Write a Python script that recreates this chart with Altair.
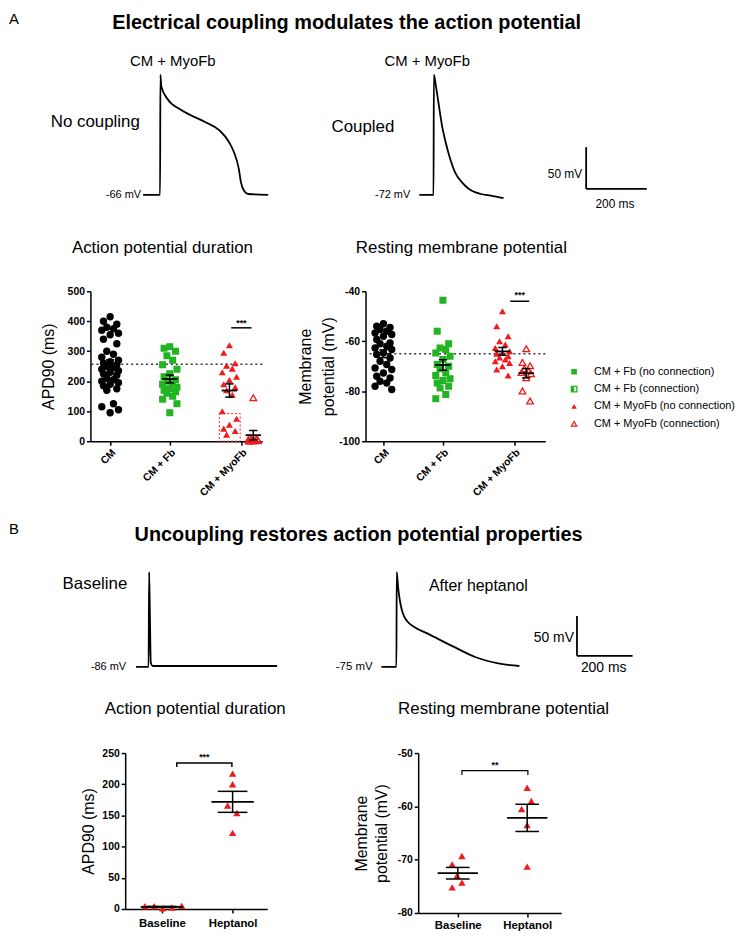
import altair as alt
import numpy as np
import pandas as pd

FONT = "Liberation Sans"
GREEN = "#22b422"
RED = "#f01a1a"

# ---------------- data ----------------
# Section A traces: time since trace start (ms), voltage above resting level (mV)
nocoup_t = [0, 56, 57, 60, 80, 119, 159, 206, 253, 284, 300, 316, 323, 335, 347, 413]
nocoup_v = [0, 0, 144, 130, 115, 103, 95, 87, 77, 63, 51, 31, 15, 4, 1, 0]
coup_t = [0, 47, 48, 55, 63, 75, 87, 102, 118, 141, 164, 203, 236, 278]
coup_v = [0, 0, 144, 130, 111, 83, 63, 43, 27, 15, 7, 1, -1, -4]
# Section B traces
base_t = [0, 45, 47, 50, 53, 60, 507]
base_v = [0, 0, 119, 60, 5, 1, 1]
hept_t = [0, 54, 55, 60, 66, 73, 82, 96, 118, 170, 255, 339, 425, 496]
hept_v = [0, 0, 119, 100, 84, 72, 63, 56, 50, 41, 26, 12, 4, 1]
scale_ms = 200
scale_mv = 50

# Section A scatter: APD90 (ms)
apd_cm = [415, 400, 390, 380, 375, 370, 360, 355, 340, 325, 300, 290, 280, 270, 265, 260, 255, 250,
          245, 240, 235, 230, 225, 220, 210, 205, 200, 195, 190, 185, 175, 170, 125, 115, 105, 95]
apd_fb = [315, 310, 300, 285, 270, 255, 240, 225, 215, 205, 200, 195, 190, 180, 175, 170, 165, 160,
          150, 140, 125, 95]
apd_myo_nc = [320, 295, 260, 252, 242, 230, 215, 204, 190, 180, 170, 155, 100, 75, 55, 42, 34, 22]
apd_myo_c = [145, 12, 8, 6, 4, 3, 2, 1, 0]
apd_box = [0, 92]
# Section A scatter: resting membrane potential (mV)
rmp_cm = [-53, -54, -54.5, -55.3, -56, -56.7, -57.3, -58, -59.3, -60.7, -61, -62, -62.7, -63.3, -64.7,
          -65.3, -66.7, -68, -69.3, -70.7, -71.3, -72.7, -74, -74.7, -76, -76.7, -78, -79.3]
rmp_fb = [-43.6, -56, -61, -62.7, -63.3, -64.7, -66, -67.3, -69.3, -70, -71, -72.7, -73.7, -75, -75.7,
          -76.7, -78, -78.7, -81.3, -83]
rmp_myo_nc = [-48, -54, -58, -60, -61.3, -62.7, -64, -64.7, -65, -66, -66.5, -67.3, -68, -68.7, -70,
              -71.3, -73.7]
rmp_myo_c = [-63, -68.5, -69.8, -71, -71.8, -72.5, -73, -74.6, -79.9, -83.9]

# Section B scatter
apd_base = [4.5, 4.5, 1.0, 2.5, 5.0]
apd_hept = [217, 200, 166, 154, 122]
rmp_base = [-70.9, -69.3, -73.0, -74.3, -75.2]
rmp_hept = [-56.5, -59.0, -60.5, -63.5, -71.3]

groups_a = ["CM", "CM + Fb", "CM + MyoFb"]
groups_b = ["Baseline", "Heptanol"]
legend_labels = ["CM + Fb (no connection)", "CM + Fb (connection)",
                 "CM + MyoFb (no connection)", "CM + MyoFb (connection)"]

# ---------------- layout constants ----------------
XA = [1.0, 2.0, 3.0, 3.4]          # group centres (CM, Fb, MyoFb no conn., MyoFb conn.)
XA_TICKS = [1.0, 2.0, 3.2]
PATTERN = [0.0, -0.8, 0.8, -0.4, 0.4, -1.0, 1.0]
OFF_APD_BASE = [-0.24, -0.11, 0.01, 0.14, 0.28]
OFF_APD_HEPT = [0.0, 0.0, -0.07, 0.06, 0.0]
OFF_RMP_BASE = [-0.08, 0.06, -0.01, 0.06, -0.08]
OFF_RMP_HEPT = [0.0, 0.06, -0.08, 0.0, 0.0]


def spread(vals, center, half):
    vals = np.asarray(vals, float)
    order = np.argsort(-vals, kind="stable")
    x = np.empty(len(vals))
    for r, i in enumerate(order):
        x[i] = center + PATTERN[r % len(PATTERN)] * half
    return x


def pts(vals, xs):
    return pd.DataFrame({"x": xs, "v": np.asarray(vals, float)})


def stat_df(groups, half_mean, half_cap):
    rows = []
    for vals, xc in groups:
        a = np.asarray(vals, float)
        m = a.mean()
        s = a.std(ddof=1) / np.sqrt(len(a))
        rows.append(dict(xc=xc, m=m, lo=m - s, hi=m + s, xm1=xc - half_mean, xm2=xc + half_mean,
                         xc1=xc - half_cap, xc2=xc + half_cap))
    return pd.DataFrame(rows)


def minus_expr():
    return "datum.value < 0 ? '-' + abs(datum.value) : '' + datum.value"


def scatter_panel(X, Y, point_layers, stats, extra, title, width, height):
    layers = list(extra.get("under", []))
    layers += point_layers
    st = alt.Chart(stats)
    layers += [
        st.mark_rule(color="black", strokeWidth=1.8).encode(x=X("xm1"), x2="xm2:Q", y=Y("m")),
        st.mark_rule(color="black", strokeWidth=1.5).encode(x=X("xc"), y=Y("lo"), y2="hi:Q"),
        st.mark_rule(color="black", strokeWidth=1.5).encode(x=X("xc1"), x2="xc2:Q", y=Y("lo")),
        st.mark_rule(color="black", strokeWidth=1.5).encode(x=X("xc1"), x2="xc2:Q", y=Y("hi")),
    ]
    layers += extra.get("over", [])
    return alt.layer(*layers).properties(width=width, height=height, title=title)


def title_params(text, dx, offset):
    return alt.TitleParams(text=text, font=FONT, fontSize=17, fontWeight="normal", color="black",
                           anchor="middle", dx=dx, offset=offset)


# ---------------- Section A scatter: APD ----------------
xa_label = ("datum.value < 1.5 ? '%s' : datum.value < 2.5 ? '%s' : '%s'" % tuple(groups_a))


def make_xa(domain):
    sc = alt.Scale(domain=domain, nice=False, zero=False)
    ax = alt.Axis(values=XA_TICKS, labelExpr=xa_label, labelAngle=-45, title=None,
                  labelOverlap=False, labelFlush=False, labelFontSize=10.5, labelPadding=2)
    return lambda f: alt.X(f + ":Q", scale=sc, axis=ax)


X_apdA = make_xa([0.67, 3.55])
sc_apdA = alt.Scale(domain=[0, 500], nice=False, zero=False)
ax_apdA = alt.Axis(values=[0, 100, 200, 300, 400, 500], title="APD90 (ms)", titlePadding=11,
                   labelFlush=False, labelOverlap=False)
Y_apdA = lambda f: alt.Y(f + ":Q", scale=sc_apdA, axis=ax_apdA)


def point_layers(X, Y, cm, fb, nc, c, xs):
    return [
        alt.Chart(pts(cm, spread(cm, xs[0], 0.14))).mark_point(shape="circle", filled=True, color="black",
                                                                size=55, opacity=1).encode(x=X("x"), y=Y("v")),
        alt.Chart(pts(fb, spread(fb, xs[1], 0.12))).mark_point(shape="square", filled=True, color=GREEN,
                                                                size=50, opacity=1).encode(x=X("x"), y=Y("v")),
        alt.Chart(pts(nc, spread(nc, xs[2], 0.12))).mark_point(shape="triangle-up", filled=True, color=RED,
                                                                size=50, opacity=1).encode(x=X("x"), y=Y("v")),
        alt.Chart(pts(c, spread(c, xs[3], 0.08))).mark_point(shape="triangle-up", filled=False, color=RED,
                                                              size=45, opacity=1, strokeWidth=1.3).encode(x=X("x"), y=Y("v")),
    ]


ref_apd = pd.DataFrame({"v": [np.mean(apd_cm)]})
box_df = pd.DataFrame({"x": [2.83], "x2": [3.18], "v": [apd_box[0]], "v2": [apd_box[1]]})
sigA1 = pd.DataFrame({"x": [3.03], "x2": [3.37], "v": [378], "tx": [3.2], "tv": [394], "s": ["***"]})

apdA = scatter_panel(
    X_apdA, Y_apdA,
    point_layers(X_apdA, Y_apdA, apd_cm, apd_fb, apd_myo_nc, apd_myo_c, XA),
    stat_df([(apd_cm, XA[0]), (apd_fb, XA[1]), (apd_myo_nc, XA[2]), (apd_myo_c, XA[3])], 0.13, 0.07),
    {"under": [
        alt.Chart(ref_apd).mark_rule(color="#333333", strokeDash=[2, 3], strokeWidth=1.5).encode(y=Y_apdA("v")),
        alt.Chart(box_df).mark_rect(fillOpacity=0, stroke=RED, strokeDash=[2, 2], strokeWidth=1).encode(
            x=X_apdA("x"), x2="x2:Q", y=Y_apdA("v"), y2="v2:Q"),
    ], "over": [
        alt.Chart(sigA1).mark_rule(color="black", strokeWidth=1.5).encode(x=X_apdA("x"), x2="x2:Q", y=Y_apdA("v")),
        alt.Chart(sigA1).mark_text(font=FONT, fontSize=9, fontWeight="bold", color="black").encode(
            x=X_apdA("tx"), y=Y_apdA("tv"), text="s:N"),
    ]},
    title_params("Action potential duration", -14, 29), 173, 151)

# ---------------- Section A scatter: RMP ----------------
X_rmpA = make_xa([0.7, 3.72])
sc_rmpA = alt.Scale(domain=[-100, -40], nice=False, zero=False)
ax_rmpA = alt.Axis(values=[-100, -80, -60, -40], title=["Membrane", "potential (mV)"], titlePadding=2,
                   titleLineHeight=23, labelFlush=False, labelOverlap=False, labelExpr=minus_expr())
Y_rmpA = lambda f: alt.Y(f + ":Q", scale=sc_rmpA, axis=ax_rmpA)
ref_rmp = pd.DataFrame({"v": [np.mean(rmp_cm)]})
sigA2 = pd.DataFrame({"x": [3.13], "x2": [3.45], "v": [-44], "tx": [3.29], "tv": [-41.5], "s": ["***"]})

rmpA = scatter_panel(
    X_rmpA, Y_rmpA,
    point_layers(X_rmpA, Y_rmpA, rmp_cm, rmp_fb, rmp_myo_nc, rmp_myo_c, XA),
    stat_df([(rmp_cm, XA[0]), (rmp_fb, XA[1]), (rmp_myo_nc, XA[2]), (rmp_myo_c, XA[3])], 0.13, 0.07),
    {"under": [
        alt.Chart(ref_rmp).mark_rule(color="#333333", strokeDash=[2, 3], strokeWidth=1.5).encode(y=Y_rmpA("v")),
    ], "over": [
        alt.Chart(sigA2).mark_rule(color="black", strokeWidth=1.5).encode(x=X_rmpA("x"), x2="x2:Q", y=Y_rmpA("v")),
        alt.Chart(sigA2).mark_text(font=FONT, fontSize=9, fontWeight="bold", color="black").encode(
            x=X_rmpA("tx"), y=Y_rmpA("tv"), text="s:N"),
    ]},
    title_params("Resting membrane potential", 6, 29), 181, 151)

# ---------------- legend ----------------
leg = pd.DataFrame({"row": list(range(len(legend_labels))), "label": legend_labels})
YL = alt.Y("row:Q", scale=alt.Scale(domain=[-4.63, 4.0], reverse=True, nice=False, zero=False), axis=None)
lb = alt.Chart(leg)
legend = alt.layer(
    lb.transform_filter("datum.row == 0").mark_point(shape="square", filled=True, color=GREEN, size=32, opacity=1)
    .encode(x=alt.value(5), y=YL),
    lb.transform_filter("datum.row == 1").mark_point(shape="square", filled=False, color=GREEN, size=30,
                                                     opacity=1, strokeWidth=1.3).encode(x=alt.value(5), y=YL),
    lb.transform_filter("datum.row == 1").mark_point(shape="M -1 -1 L 0 -1 L 0 1 L -1 1 Z", filled=True,
                                                     color=GREEN, size=30, opacity=1).encode(x=alt.value(5), y=YL),
    lb.transform_filter("datum.row == 2").mark_point(shape="triangle-up", filled=True, color=RED, size=30, opacity=1)
    .encode(x=alt.value(5), y=YL),
    lb.transform_filter("datum.row == 3").mark_point(shape="triangle-up", filled=False, color=RED, size=30,
                                                     opacity=1, strokeWidth=1.2).encode(x=alt.value(5), y=YL),
    lb.mark_text(align="left", baseline="middle", font=FONT, fontSize=11, color="black")
    .encode(x=alt.value(25), y=YL, text="label:N"),
).properties(width=150, height=151)

# ---------------- Section B scatter ----------------
xb_label = "datum.value < 1.5 ? '%s' : '%s'" % tuple(groups_b)


def make_xb(domain, pad):
    sc = alt.Scale(domain=domain, nice=False, zero=False)
    ax = alt.Axis(values=[1, 2], labelExpr=xb_label, title=None, labelOverlap=False, labelFlush=False,
                  labelFontSize=11.5, labelPadding=pad)
    return lambda f: alt.X(f + ":Q", scale=sc, axis=ax)


def simple_pts(X, Y, vals, center, offs):
    xs = center + np.asarray(offs, float)
    return alt.Chart(pts(vals, xs)).mark_point(shape="triangle-up", filled=True, color=RED, size=55,
                                               opacity=1).encode(x=X("x"), y=Y("v"))


X_apdB = make_xb([0.48, 2.49], 5)
sc_apdB = alt.Scale(domain=[0, 250], nice=False, zero=False)
ax_apdB = alt.Axis(values=[0, 50, 100, 150, 200, 250], title="APD90 (ms)", titlePadding=5,
                   labelFlush=False, labelOverlap=False)
Y_apdB = lambda f: alt.Y(f + ":Q", scale=sc_apdB, axis=ax_apdB)
brB1 = pd.DataFrame({"x": [1.21, 1.21, 1.99, 1.99], "v": [227.5, 234, 234, 227.5], "i": [0, 1, 2, 3]})
sgB1 = pd.DataFrame({"x": [1.6], "v": [244], "s": ["***"]})
apdB = scatter_panel(
    X_apdB, Y_apdB,
    [simple_pts(X_apdB, Y_apdB, apd_base, 1.0, OFF_APD_BASE), simple_pts(X_apdB, Y_apdB, apd_hept, 2.0, OFF_APD_HEPT)],
    stat_df([(apd_base, 1.0), (apd_hept, 2.0)], 0.30, 0.21),
    {"over": [
        alt.Chart(brB1).mark_line(color="black", strokeWidth=1.5).encode(x=X_apdB("x"), y=Y_apdB("v"), order="i:Q"),
        alt.Chart(sgB1).mark_text(font=FONT, fontSize=9, fontWeight="bold", color="black").encode(
            x=X_apdB("x"), y=Y_apdB("v"), text="s:N"),
    ]},
    title_params("Action potential duration", -1, 30), 143, 157)

X_rmpB = make_xb([0.43, 2.49], 3)
sc_rmpB = alt.Scale(domain=[-80, -50], nice=False, zero=False)
ax_rmpB = alt.Axis(values=[-80, -70, -60, -50], title=["Membrane", "potential (mV)"], titlePadding=8,
                   titleLineHeight=20, labelFlush=False, labelOverlap=False, labelExpr=minus_expr())
Y_rmpB = lambda f: alt.Y(f + ":Q", scale=sc_rmpB, axis=ax_rmpB)
brB2 = pd.DataFrame({"x": [1.06, 1.06, 2.01, 2.01], "v": [-54.1, -53.3, -53.3, -54.1], "i": [0, 1, 2, 3]})
sgB2 = pd.DataFrame({"x": [1.535], "v": [-52.3], "s": ["**"]})
rmpB = scatter_panel(
    X_rmpB, Y_rmpB,
    [simple_pts(X_rmpB, Y_rmpB, rmp_base, 1.0, OFF_RMP_BASE), simple_pts(X_rmpB, Y_rmpB, rmp_hept, 2.0, OFF_RMP_HEPT)],
    stat_df([(rmp_base, 1.0), (rmp_hept, 2.0)], 0.29, 0.17),
    {"over": [
        alt.Chart(brB2).mark_line(color="black", strokeWidth=1.2).encode(x=X_rmpB("x"), y=Y_rmpB("v"), order="i:Q"),
        alt.Chart(sgB2).mark_text(font=FONT, fontSize=9, fontWeight="bold", color="black").encode(
            x=X_rmpB("x"), y=Y_rmpB("v"), text="s:N"),
    ]},
    title_params("Resting membrane potential", 14, 30), 144, 161)


# ---------------- trace rows ----------------
def trace_row(traces, bar_at, texts, xdom, ydom, width, height):
    X = alt.X("t:Q", scale=alt.Scale(domain=xdom, nice=False, zero=False), axis=None)
    Y = alt.Y("v:Q", scale=alt.Scale(domain=ydom, nice=False, zero=False), axis=None)
    frames = []
    for name, t, v, off in traces:
        frames.append(pd.DataFrame({"trace": name, "t": np.asarray(t, float) + off,
                                    "v": np.asarray(v, float), "i": range(len(t))}))
    df = pd.concat(frames, ignore_index=True)
    sb = pd.DataFrame({"t": [bar_at[0]], "t2": [bar_at[0] + scale_ms], "v": [bar_at[1]], "v2": [bar_at[1] + scale_mv]})
    tdf = pd.DataFrame(texts, columns=["t", "v", "label", "size", "kind"])
    layers = [
        alt.Chart(df).mark_line(color="black", strokeWidth=1.8, interpolate="monotone").encode(
            x=X, y=Y, detail="trace:N", order="i:Q"),
        alt.Chart(sb).mark_rule(color="black", strokeWidth=1.8).encode(x=X, y=Y, y2="v2:Q"),
        alt.Chart(sb).mark_rule(color="black", strokeWidth=1.8).encode(x=X, x2="t2:Q", y=Y),
    ]
    for kind, align, weight in [("left", "left", "normal"), ("right", "right", "normal"),
                                ("center", "center", "normal"), ("title", "center", "bold")]:
        sub = tdf[tdf.kind == kind]
        if len(sub):
            layers.append(alt.Chart(sub).mark_text(align=align, baseline="middle", font=FONT, fontWeight=weight,
                                                   color="black").encode(
                x=X, y=Y, text="label:N", size=alt.Size("size:Q", scale=None)))
    return alt.layer(*layers).properties(width=width, height=height)


rowA = trace_row(
    [("nocoup", nocoup_t, nocoup_v, 0), ("coup", coup_t, coup_v, 912)],
    (1463, 7.1),
    [(-443, 211, "A", 15, "left"),
     (672, 206, "Electrical coupling modulates the action potential", 20, "title"),
     (98, 160.6, "CM + MyoFb", 15, "center"),
     (938, 160.6, "CM + MyoFb", 15, "center"),
     (-305, 87, "No coupling", 17, "left"),
     (622, 81, "Coupled", 17, "left"),
     (-7, 0, "-66 mV", 11, "right"),
     (882, 0, "-72 mV", 11, "right"),
     (1450, 25, "50 mV", 12, "right"),
     (1558, -10.7, "200 ms", 12, "center")],
    [-174, 1925], [-56, 220], 640, 232)

rowB = trace_row(
    [("base", base_t, base_v, 0), ("hept", hept_t, hept_v, 882)],
    (1585, 13.75),
    [(-457, 172.5, "B", 15, "left"),
     (800, 166, "Uncoupling restores action potential properties", 20, "title"),
     (-264, 104, "Baseline", 17, "left"),
     (1053, 101, "After heptanol", 16, "left"),
     (-36, 0, "-86 mV", 11, "right"),
     (850, 0, "-75 mV", 11.5, "right"),
     (1574, 36, "50 mV", 14, "right"),
     (1681, -1.25, "200 ms", 14, "center")],
    [-164, 2121], [-46, 221], 640, 214)


def spacer(w, h):
    return alt.Chart(pd.DataFrame({"s": [0]})).mark_point(opacity=0).encode(
        x=alt.X("s:Q", axis=None), y=alt.Y("s:Q", axis=None)).properties(width=w, height=h)


row2 = alt.hconcat(apdA, alt.hconcat(rmpA, legend, spacing=24, bounds="flush"), spacing=104, bounds="flush")
row4 = alt.hconcat(spacer(35, 20), alt.hconcat(apdB, rmpB, spacing=152, bounds="flush"), spacing=0, bounds="flush")

chart = alt.vconcat(rowA, row2, spacer(10, 101), rowB, row4, spacing=50, bounds="flush").properties(
    padding=0
).configure_view(stroke=None).configure_axis(
    domainColor="black", domainWidth=1.5, tickColor="black", tickWidth=1.5, tickSize=4, grid=False,
    labelFont=FONT, labelFontWeight="bold", labelFontSize=10.5, labelColor="black",
    titleFont=FONT, titleFontWeight="normal", titleFontSize=16, titleColor="black"
)

chart.save("out.html", embed_options={"renderer": "svg", "actions": False})
